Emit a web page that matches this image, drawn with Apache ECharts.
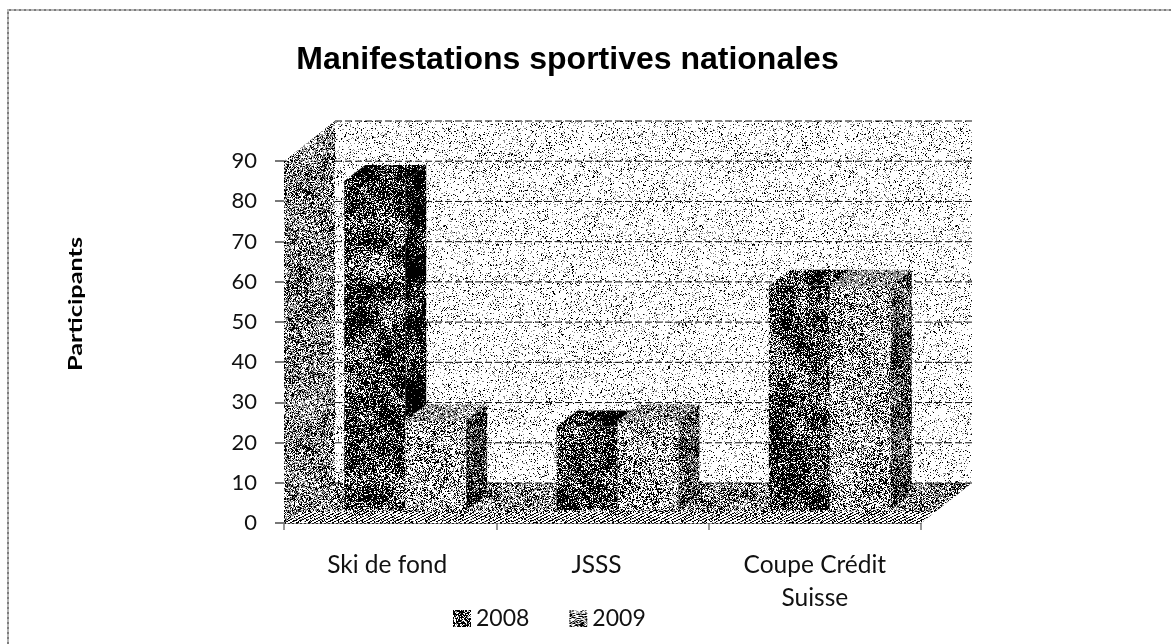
<!DOCTYPE html>
<html>
<head>
<meta charset="utf-8">
<style>html,body{margin:0;padding:0;background:#fff}#chart{width:1171px;height:644px}</style>
<script src="https://cdn.jsdelivr.net/npm/echarts@6/dist/echarts.min.js"></script>
</head>
<body>
<div id="chart"></div>
<script>
const titleText = 'Manifestations sportives nationales';
const yAxisTitle = 'Participants';
const categories = ['Ski de fond', 'JSSS', 'Coupe Crédit\nSuisse'];
const seriesNames = ['2008', '2009'];
const values2008 = [85, 24, 59];
const values2009 = [25.5, 25.5, 59];
const yTicks = [0, 10, 20, 30, 40, 50, 60, 70, 80, 90];

// Deterministic stipple textures imitating the reference's dithered fills
function hash(x, y, s) {
  let h = Math.imul(x, 374761393) + Math.imul(y, 668265263) + Math.imul(s, 2147481413);
  h = Math.imul(h ^ (h >>> 13), 1274126177);
  h ^= h >>> 16;
  return (h >>> 0) / 4294967296;
}
function smooth(x, y, s) {
  const cell = 16, m = 256 / cell;
  const i = Math.floor(x / cell), j = Math.floor(y / cell);
  const fx = x / cell - i, fy = y / cell - j;
  const at = (a, b) => hash(a % m, b % m, s);
  const top = at(i, j) * (1 - fx) + at(i + 1, j) * fx;
  const bot = at(i, j + 1) * (1 - fx) + at(i + 1, j + 1) * fx;
  return top * (1 - fy) + bot * fy;
}
function texture(seed, black, gray, hatch) {
  const n = 256, c = document.createElement('canvas');
  c.width = c.height = n;
  const g = c.getContext('2d');
  g.fillStyle = '#fff'; g.fillRect(0, 0, n, n);
  for (let y = 0; y < n; y++) for (let x = 0; x < n; x++) {
    const clump = 0.55 + 0.9 * smooth(x, y, seed + 7);
    const r = hash(x, y, seed);
    let dark = black * clump;
    if (hatch && (x + y * 2) % 6 < 2) dark = hatch;
    if (r < dark) { g.fillStyle = '#000'; g.fillRect(x, y, 1, 1); }
    else if (r < dark + gray * (2 - clump)) { g.fillStyle = '#8c8c8c'; g.fillRect(x, y, 1, 1); }
  }
  return { image: c, repeat: 'repeat' };
}
const fills = {
  back: texture(1, 0.07, 0.08),
  side: texture(2, 0.37, 0.28),
  floor: texture(3, 0.36, 0.26),
  strip: texture(4, 0.10, 0.06, 0.85),
  front08: texture(5, 0.64, 0.1),
  top08: texture(6, 0.72, 0.1),
  side08: texture(7, 0.74, 0.1),
  front09: texture(8, 0.3, 0.14),
  top09: texture(9, 0.2, 0.5),
  side09: texture(10, 0.54, 0.3)
};

const wallDepth = { dx: 51, dy: -40 };
const barShift = { dx: 15, dy: -13 };
const barDepth = { dx: 21, dy: -16 };
const barRatio = 0.287;

const poly = (points, fill) => ({
  type: 'polygon', silent: true, shape: { points },
  style: { fill: fill }
});

function renderWalls(params, api) {
  const cs = params.coordSys;
  const yAt = v => api.coord([0, v])[1];
  const L = cs.x, R = cs.x + cs.width, y0 = yAt(0), yMax = yAt(yTicks[yTicks.length - 1]);
  const d = wallDepth;
  const children = [
    poly([[L + d.dx, yMax + d.dy], [R + d.dx, yMax + d.dy], [R + d.dx, y0 + d.dy], [L + d.dx, y0 + d.dy]], fills.back),
    poly([[L, yMax], [L + d.dx, yMax + d.dy], [L + d.dx, y0 + d.dy], [L, y0]], fills.side),
    poly([[L + d.dx, y0 + d.dy], [R + d.dx, y0 + d.dy], [R, y0], [L, y0]], fills.floor),
    poly([[L + 14, y0 - 11], [R + 14, y0 - 11], [R, y0], [L, y0]], fills.strip)
  ];
  yTicks.forEach(v => {
    children.push({
      type: 'line', silent: true,
      shape: { x1: L + d.dx, y1: yAt(v) + d.dy, x2: R + d.dx, y2: yAt(v) + d.dy },
      style: { stroke: '#111', lineWidth: 1, lineDash: [7, 3] }
    });
  });
  return { type: 'group', children };
}

function makeBars(si, front, top, side) {
  return function (params, api) {
    const idx = api.value(0), v = api.value(1);
    const w = api.size([1, 0])[0] * barRatio;
    const p0 = api.coord([idx, 0]), pv = api.coord([idx, v]);
    const x0 = p0[0] + barShift.dx + (si - 1) * w, x1 = x0 + w;
    const yB = p0[1] + barShift.dy, yT = pv[1];
    const d = barDepth;
    return {
      type: 'group',
      children: [
        poly([[x1, yT], [x1 + d.dx, yT + d.dy], [x1 + d.dx, yB + d.dy], [x1, yB]], side),
        poly([[x0, yT], [x0 + d.dx, yT + d.dy], [x1 + d.dx, yT + d.dy], [x1, yT]], top),
        poly([[x0, yT], [x1, yT], [x1, yB], [x0, yB]], front)
      ]
    };
  };
}

const axisFont = 'Lato, Carlito, Calibri, sans-serif';
const catLabel = { fontFamily: axisFont, fontSize: 24.5, lineHeight: 33, color: '#111' };
const chart = echarts.init(document.getElementById('chart'), null, { renderer: 'canvas' });
chart.setOption({
  animation: false,
  backgroundColor: '#fff',
  title: {
    text: titleText, left: 562.5, top: 39, textAlign: 'center',
    textStyle: { fontFamily: '"Liberation Sans", Arial, sans-serif', fontWeight: 'bold', fontSize: 32, color: '#000' }
  },
  grid: { left: 284, right: 250, top: 161, bottom: 121 },
  legend: {
    left: 453, top: 607, padding: 0, itemWidth: 18, itemHeight: 17, itemGap: 40, selectedMode: false,
    textStyle: { fontFamily: axisFont, fontSize: 23, color: '#111' },
    data: [
      { name: seriesNames[0], icon: 'rect', itemStyle: { color: fills.top08 } },
      { name: seriesNames[1], icon: 'rect', itemStyle: { color: fills.front09 } }
    ]
  },
  xAxis: {
    type: 'category', data: categories, boundaryGap: true,
    axisLine: { show: true, lineStyle: { color: '#222', type: [2, 2], width: 1 } },
    axisTick: { show: true, length: 7, lineStyle: { color: '#777', width: 1.5 } },
    axisLabel: {
      interval: 0, margin: 26, ...catLabel,
      formatter: (v, i) => i === 0 ? '{a|' + v + '}' : i === 1 ? '{b|' + v + '}' : v,
      rich: { a: { ...catLabel, padding: [0, 6, 0, 0] }, b: { ...catLabel, padding: [0, 12, 0, 0] } }
    },
    splitLine: { show: false }
  },
  yAxis: {
    type: 'value', min: 0, max: 90, interval: 10,
    axisLine: { show: false },
    axisTick: { show: true, length: 9, lineStyle: { color: '#777', width: 2 } },
    axisLabel: { margin: 27, fontFamily: axisFont, fontSize: 22, color: '#111' },
    splitLine: { show: false }
  },
  graphic: [
    { type: 'text', rotation: Math.PI / 2, x: 76, y: 304, scaleX: 1.33, silent: true,
      style: { text: yAxisTitle, align: 'center', verticalAlign: 'middle', fontFamily: axisFont, fontWeight: 'bold', fontSize: 19, fill: '#000' } },
    { type: 'polyline', silent: true, shape: { points: [[8, 644], [8, 10], [1171, 10]] },
      style: { stroke: '#b5b5b5', lineWidth: 2, fill: null } },
    { type: 'polyline', silent: true, shape: { points: [[8, 644], [8, 10], [1171, 10]] },
      style: { stroke: '#444', lineWidth: 1, lineDash: [2, 3], fill: null } }
  ],
  series: [
    { type: 'custom', name: 'walls', coordinateSystem: 'cartesian2d', clip: false, z: 1, silent: true,
      data: [[0, 0]], renderItem: renderWalls },
    { type: 'custom', name: seriesNames[0], coordinateSystem: 'cartesian2d', clip: false, z: 2, silent: true,
      data: values2008.map((v, i) => [i, v]), encode: { x: 0, y: 1 },
      renderItem: makeBars(0, fills.front08, fills.top08, fills.side08) },
    { type: 'custom', name: seriesNames[1], coordinateSystem: 'cartesian2d', clip: false, z: 3, silent: true,
      data: values2009.map((v, i) => [i, v]), encode: { x: 0, y: 1 },
      renderItem: makeBars(1, fills.front09, fills.top09, fills.side09) }
  ]
});
</script>
</body>
</html>
